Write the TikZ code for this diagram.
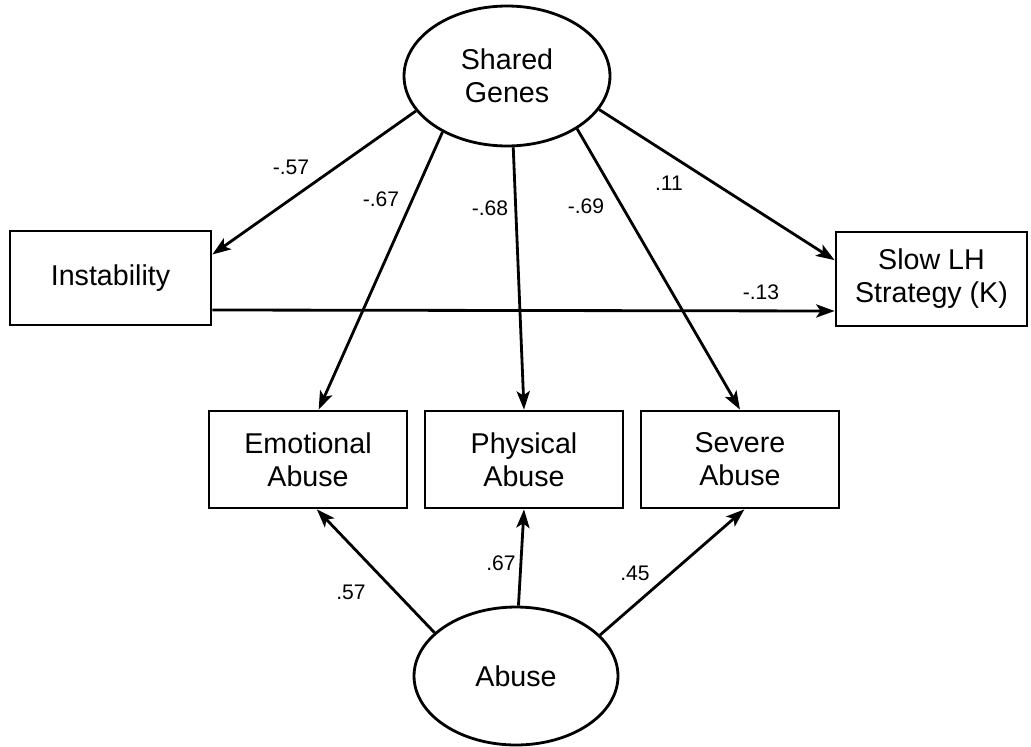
\documentclass[tikz,border=0pt]{standalone}
\usepackage{fontspec}
\setmainfont{Liberation Sans}
\usetikzlibrary{shapes.geometric,arrows.meta}

\begin{document}
\begin{tikzpicture}[x=0.02cm,y=-0.02cm,
latent/.style = {draw, ellipse, line width=1.6pt, inner sep=0pt, align=center, font=\fontsize{16.3}{18.8}\selectfont},
obs/.style = {draw, rectangle, line width=1.6pt, inner sep=0pt, minimum width=3.96cm, minimum height=1.94cm, align=center, font=\fontsize{16.3}{18.8}\selectfont},
path/.style = {line width=1.6pt, -{Stealth[length=10.5pt,width=7.5pt,inset=2.5pt]}},
coef/.style = {inner sep=0pt, font=\fontsize{12}{13}\selectfont},
node distance={43.2mm}]
\useasboundingbox (0,0) rectangle (1031,747);
\node[latent, minimum width=4.12cm, minimum height=2.8cm] (sg) at (507,76) {Shared\\Genes};
\node[obs, minimum width=4.02cm, minimum height=1.88cm] (inst) at (110.5,278) {Instability};
\node[obs, minimum width=3.82cm, minimum height=1.88cm] (slow) at (931.5,279) {Slow LH\\Strategy (K)};
\node[obs] (phys) at (524,459.5) {Physical\\Abuse};
\node[obs] (emo) [left of=phys] {Emotional\\Abuse};
\node[obs] (sev) [right of=phys] {Severe\\Abuse};
\node[latent, minimum width=4.08cm, minimum height=2.76cm] (ab) at (516,676) {Abuse};
\draw[path] (sg.201) -- (inst.13);
\draw[path] (sg.221) -- (emo.78);
\draw[path] (sg.275) -- (phys.north);
\draw[path] (sg.323) -- (sev.north);
\draw[path] (sg.340) -- (slow.169);
\draw[path] ([yshift=-0.64cm]inst.east) -- ([yshift=-0.64cm]slow.west);
\draw[path] (ab.152) -- (emo.280);
\draw[path] (ab.88) -- (phys.south);
\draw[path] (ab.26) -- (sev.275);
% path coefficients
\node[coef] (c1) at (291,167) {-.57};
\node[coef] (c2) at (381,199) {-.67};
\node[coef] (c3) at (490,208) {-.68};
\node[coef] (c4) at (586,206) {-.69};
\node[coef] (c5) at (669,183) {.11};
\node[coef] (c6) at (761,292) {-.13};
\node[coef] (c7) at (351,592) {.57};
\node[coef] (c8) at (501,563) {.67};
\node[coef] (c9) at (635,573) {.45};
\end{tikzpicture}
\end{document}
